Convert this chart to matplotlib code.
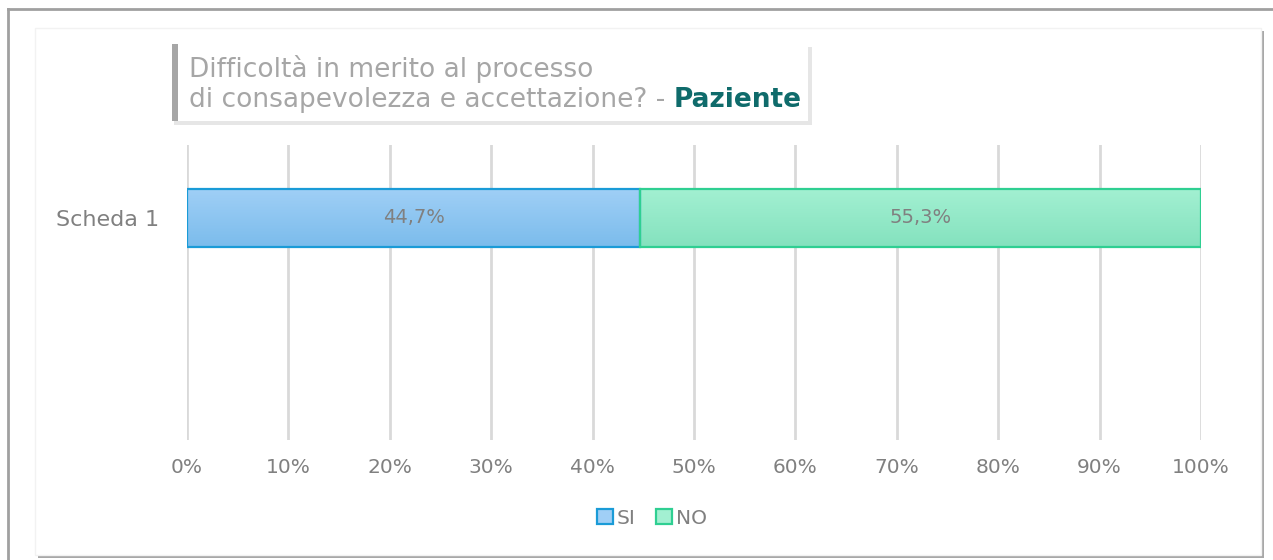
import matplotlib
matplotlib.use('Agg')
import matplotlib.pyplot as plt
import matplotlib.patches as mpatches
from matplotlib.colors import LinearSegmentedColormap
import numpy as np

# ── dati ──────────────────────────────────────────────
categories = ['Scheda 1']
series = ['SI', 'NO']
values = [44.7, 55.3]
tick_vals = [0, 10, 20, 30, 40, 50, 60, 70, 80, 90, 100]

fills_top = ['#a0cff6', '#a3f0d2']
fills_bot = ['#7bbcec', '#84e2be']
edges = ['#1a9bd7', '#2fcf92']
GREY = '#808080'

plt.rcParams['font.family'] = ['DejaVu Sans']

W, H = 1273, 560
fig = plt.figure(figsize=(W / 100, H / 100), dpi=100, facecolor='white')

def px(x, y, w, h):
    return [x / W, 1 - (y + h) / H, w / W, h / H]

def fig_rect(x, y, w, h, **kw):
    fig.add_artist(mpatches.Rectangle((x / W, 1 - (y + h) / H), w / W, h / H,
                                      transform=fig.transFigure, **kw))

# cornice esterna e pannello interno con ombra (dietro gli assi)
fig.add_artist(plt.Line2D([8 / W, 8 / W], [0, 1 - 9 / H], transform=fig.transFigure, color='#a0a0a0', lw=2, zorder=-5))
fig.add_artist(plt.Line2D([8 / W, 1], [1 - 9 / H, 1 - 9 / H], transform=fig.transFigure, color='#a0a0a0', lw=2, zorder=-5))
fig_rect(38, 31, 1226, 527, facecolor='#a8a8a8', edgecolor='none', zorder=-4)
fig_rect(35, 28, 1226, 527, facecolor='white', edgecolor='#f2f2f2', lw=1, zorder=-3)

ax = fig.add_axes(px(187, 145, 1014, 295))
ax.set_facecolor('none')

left = 0
for i, (name, v) in enumerate(zip(series, values)):
    bar = ax.barh(0, v, left=left, height=0.8, color=fills_bot[i], edgecolor='none', zorder=3)[0]
    cmap = LinearSegmentedColormap.from_list(name, [fills_top[i], fills_bot[i]])
    im = ax.imshow(np.linspace(0, 1, 64).reshape(-1, 1), cmap=cmap, aspect='auto',
                   extent=(left, left + v, 0.4, -0.4), zorder=3.5)
    im.set_clip_path(bar)
    ax.add_patch(mpatches.Rectangle((left, -0.4), v, 0.8, fill=False, edgecolor=edges[i], lw=1.6, zorder=4))
    ax.text(left + v / 2, 0, f'{v:.1f}%'.replace('.', ','), ha='center', va='center',
            color=GREY, fontsize=14, zorder=5)
    left += v

ax.set_xlim(0, 100)
ax.set_ylim(3.06, -1.0)
ax.set_xticks(tick_vals)
ax.set_xticklabels([f'{t}%' for t in tick_vals], color=GREY, fontsize=14.5)
ax.set_yticks(range(len(categories)))
ax.set_yticklabels(categories, color=GREY, fontsize=16)
ax.tick_params(axis='x', length=0, pad=13)
ax.tick_params(axis='y', length=0, pad=20)
ax.grid(axis='x', color='#d9d9d9', lw=2, zorder=0)
for s in ax.spines.values():
    s.set_visible(False)

# riquadro titolo
fig_rect(174, 47, 638, 78, facecolor='#e6e6e6', edgecolor='none', zorder=5)
fig_rect(172, 44, 636, 77, facecolor='white', edgecolor='none', zorder=6)
fig_rect(172, 44, 6, 77, facecolor='#a6a6a6', edgecolor='none', zorder=7)
fig.text(189 / W, 1 - 69 / H, 'Difficoltà in merito al processo', color='#a6a6a6', fontsize=19, va='center', zorder=8)
t2 = fig.text(189 / W, 1 - 100 / H, 'di consapevolezza e accettazione? - ', color='#a6a6a6', fontsize=19,
              va='center', zorder=8)
fig.canvas.draw()
bb = t2.get_window_extent()
fig.text(bb.x1 / W, 1 - 100 / H, 'Paziente', color='#0f6b6b', fontsize=19, fontweight='bold', va='center', zorder=8)

# legenda
handles = [mpatches.Patch(facecolor=fills_top[i], edgecolor=edges[i], lw=1.6, label=series[i]) for i in range(2)]
fig.legend(handles=handles, loc='center', bbox_to_anchor=(652 / W, 1 - 518 / H), ncol=2, frameon=False,
           fontsize=14.5, labelcolor=GREY, handlelength=0.8, handleheight=0.8, handletextpad=0.2,
           columnspacing=1.0)

fig.savefig('out.png', dpi=100, facecolor='white')
